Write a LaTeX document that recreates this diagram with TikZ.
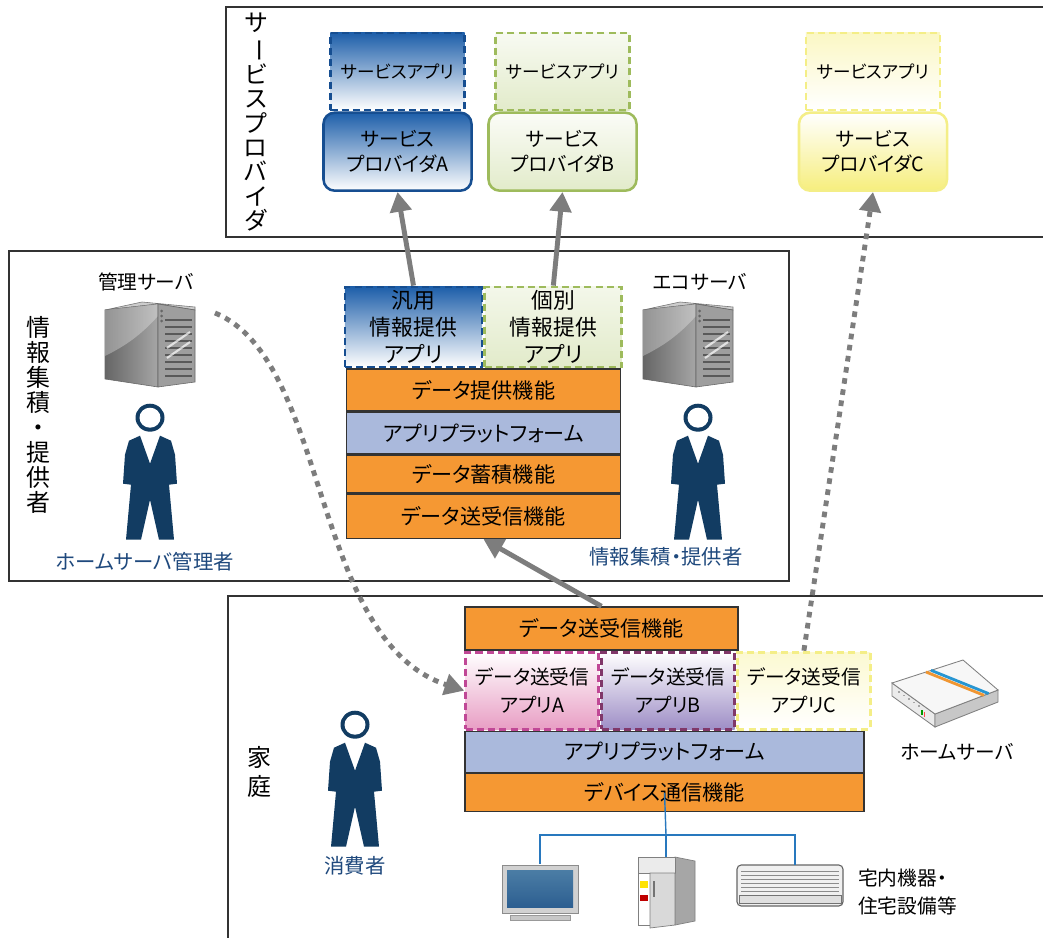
\documentclass[tikz,border=0pt]{standalone}
\usepackage{fontspec}
\setmainfont{Noto Sans CJK JP}[RawFeature=+palt]
\usepackage{graphicx}
\usetikzlibrary{positioning,arrows.meta}

\definecolor{funcorange}{RGB}{245,152,51}
\definecolor{platblue}{RGB}{170,185,220}
\definecolor{provblue}{RGB}{30,95,170}
\definecolor{provblueline}{RGB}{22,78,145}
\definecolor{provgreen}{RGB}{226,235,202}
\definecolor{provgreenline}{RGB}{158,187,92}
\definecolor{provyellow}{RGB}{246,238,125}
\definecolor{provyellowline}{RGB}{244,238,135}
\definecolor{apppink}{RGB}{232,158,196}
\definecolor{apppinkline}{RGB}{192,72,150}
\definecolor{apppurple}{RGB}{158,142,198}
\definecolor{apppurpleline}{RGB}{128,55,105}
\definecolor{staffblue}{RGB}{18,60,98}
\definecolor{labelblue}{RGB}{31,73,125}
\definecolor{arrowgray}{RGB}{125,125,125}
\definecolor{wireblue}{RGB}{40,120,190}
\definecolor{stripeblue}{RGB}{40,150,210}
\definecolor{stripeorange}{RGB}{240,150,50}
\definecolor{screentop}{RGB}{75,125,165}
\definecolor{screenbottom}{RGB}{45,95,145}

\begin{document}
\begin{tikzpicture}
	[x=0.025cm,y=-0.025cm%
	,every node/.style={inner sep=0pt,%
		font=\fontsize{15}{19}\selectfont}%
	,zone/.style={draw=black!80,line width=0.9pt}%
	,funcbox/.style={draw=black!80,line width=1pt,%
		fill=funcorange,minimum width=6.85cm}%
	,platbox/.style={funcbox,fill=platblue}%
	,dashbox/.style={line width=2pt,dash pattern=on 5pt off 3pt,align=center}%
	,svcapp/.style={dashbox,minimum width=3.35cm,minimum height=1.925cm,%
		font=\fontsize{12.5}{16}\selectfont}%
	,provider/.style={line width=1.8pt,rounded corners=8pt,%
		minimum width=3.7cm,minimum height=1.95cm,align=center,%
		font=\fontsize{14}{18}\selectfont}%
	,infoapp/.style={dashbox,minimum width=3.425cm,minimum height=2cm,%
		font=\fontsize{15.5}{19}\selectfont}%
	,homeapp/.style={dashbox,minimum width=3.325cm,minimum height=1.925cm,%
		font=\fontsize{14}{20}\selectfont}%
	,vlabel/.style={align=center,font=\fontsize{17}{17.3}\selectfont}%
	,caplabel/.style={font=\fontsize{14}{19.5}\selectfont}%
	,rolelabel/.style={caplabel,font=\fontsize{14.5}{19}\selectfont,text=labelblue}%
	,device/.style={inner sep=0pt}%
	,flowarrow/.style={draw=arrowgray,line width=3.5pt,%
		-{Triangle[length=14pt,width=15pt]}}%
	,dotarrow/.style={flowarrow,dash pattern=on 4pt off 4pt}%
	,wire/.style={draw=wireblue,line width=1pt}%
	,server/.pic={%
		\path[draw=black!55,line width=0.4pt,fill=black!20]
			(-45,-36) -- (-8,-44) -- (45,-39) -- (45,-36) -- (8,-42) -- cycle;
		\path[draw=black!60,line width=0.4pt,left color=black!60,right color=black!35]
			(-45,-36) -- (8,-42) -- (8,41) -- (-45,33) -- cycle;
		\fill[white,opacity=0.3] (-45,10) .. controls (-25,0) and (-10,-10) .. (8,-30)
			-- (8,-42) -- (-45,-36) -- cycle;
		\path[draw=black!60,line width=0.4pt,fill=black!38]
			(8,-42) -- (45,-36) -- (45,36) -- (8,41) -- cycle;
		\foreach \y in {-26,-19,...,30}
			\draw[black!65,line width=0.8pt] (15,\y) -- (42,\y);
		\draw[white,line width=1.5pt,opacity=0.7] (17,2) -- (40,-14) (17,12) -- (40,-4);
		\foreach \y in {-35,-30,-25}
			\fill[black!60] (11.5,\y) circle (1.5);}%
	,person/.pic={%
		\fill[staffblue] (0,18) ellipse [x radius=14.5,y radius=14];
		\fill[white] (0,18) ellipse [x radius=10.5,y radius=10];
		\fill[staffblue] (-10,36) -- (0,64) -- (10,36) -- (21,41) -- (25,55)
			-- (27,84) -- (19,85) -- (24,140) -- (9,140) -- (0,100) -- (-9,140)
			-- (-24,140) -- (-19,85) -- (-27,84) -- (-25,55) -- (-21,41) -- cycle;}%
	,homeserver/.pic={%
		\path[draw=black!50,line width=0.6pt,fill=black!8]
			(-53,-10) -- (-10,21) -- (-10,34) -- (-53,3) -- cycle;
		\path[draw=black!50,line width=0.6pt,fill=black!22]
			(-10,21) -- (53,-3) -- (53,9) -- (-10,34) -- cycle;
		\path[draw=black!50,line width=0.6pt,fill=black!3]
			(-53,-10) -- (18,-33) -- (53,-3) -- (-10,21) -- cycle;
		\draw[stripeorange,line width=2pt] (-19,-21) -- (39,2.3);
		\draw[stripeblue,line width=2pt] (-14,-22.7) -- (43.6,0.6);
		\foreach \i in {0,...,4}
			\fill[black!35] (-47+5*\i,-2+3.6*\i) rectangle ++(1.6,1.6);
		\fill[green!60!black] (-24,17) rectangle ++(1.5,5);
		\fill[red!70] (-21.5,19) rectangle ++(1.5,5);}%
	,tv/.pic={%
		\path[draw=black!45,line width=0.6pt,fill=black!18] (-38,-27) rectangle (38,21);
		\path[top color=screentop,bottom color=screenbottom] (-33,-22) rectangle (33,15);
		\path[draw=black!40,line width=0.5pt,fill=black!22] (-30,23) rectangle (30,28);}%
	,fridge/.pic={%
		\path[draw=black!50,line width=0.5pt,fill=black!35]
			(9,-34) -- (29,-30) -- (29,30) -- (9,34) -- cycle;
		\path[draw=black!50,line width=0.5pt,fill=black!8] (-28,-34) rectangle (9,-18);
		\path[draw=black!50,line width=0.5pt,fill=white] (-28,-18) rectangle (-16,34);
		\fill[yellow!85!orange] (-26,-10) rectangle (-18,-3);
		\fill[red!75!black] (-26,4) rectangle (-18,10);
		\path[draw=black!50,line width=0.5pt,fill=black!15]
			(-16,-18) -- (9,-18) -- (9,34) -- (-16,37) -- cycle;
		\draw[black!55,line width=1pt] (-12,-10) -- (-12,6);}%
	,aircon/.pic={%
		\path[draw=black!60,line width=0.8pt,fill=black!6,rounded corners=3pt]
			(-58,-21) rectangle (48,20);
		\foreach \y in {-15,-11,...,5}
			\draw[black!45,line width=0.7pt] (-54,\y) -- (44,\y);
		\path[draw=black!55,line width=0.6pt,fill=black!12] (-56,9) rectangle (46,17);}%
	]
	\fill[white,use as bounding box] (0,0) rectangle (1043,938);

	% the three zones
	\draw[zone] (226,7) rectangle (1070,237);
	\draw[zone] (9,251) rectangle (789,581);
	\draw[zone] (228,596) rectangle (1070,960);

	\node[vlabel] (spname) at (256,122)
		{サ\\\rotatebox[origin=c]{-90}{ー}\\ビ\\ス\\プ\\ロ\\バ\\イ\\ダ};
	\node[vlabel,font=\fontsize{17}{17.8}\selectfont] (hubname) at (38,415) {情\\報\\集\\積\\・\\提\\供\\者};
	\node[vlabel,font=\fontsize{17}{21}\selectfont] (homename) at (259,772) {家\\庭};

	% service providers
	\node[svcapp,top color=provblue,middle color=provblue!35,bottom color=white,%
		draw=provblueline] (svcA) at (397.5,71.5) {サービスアプリ};
	\node[provider,below=0pt of svcA,top color=provblue,bottom color=white,%
		draw=provblueline] (provA) {サービス\\プロバイダA};
	\node[svcapp,top color=provgreen!25,bottom color=provgreen,%
		draw=provgreenline] (svcB) at (562.5,71.5) {サービスアプリ};
	\node[provider,below=0pt of svcB,top color=provgreen!15,bottom color=provgreen,%
		draw=provgreenline] (provB) {サービス\\プロバイダB};
	\node[svcapp,top color=provyellow!45,bottom color=white,%
		draw=provyellowline] (svcC) at (873,71.5) {サービスアプリ};
	\node[provider,below=0pt of svcC,top color=white,bottom color=provyellow,%
		draw=provyellowline] (provC) {サービス\\プロバイダC};

	% information hub
	\node[infoapp,top color=provblue,middle color=provblue!30,bottom color=white,%
		draw=provblueline] (genapp) at (413.5,327) {汎用\\情報提供\\アプリ};
	\node[infoapp,right=0pt of genapp,top color=provgreen!40,bottom color=provgreen,%
		draw=provgreenline] (indapp) {個別\\情報提供\\アプリ};
	\node[funcbox,minimum height=1.05cm,below=0pt of genapp.south east] (mprov) {データ提供機能};
	\node[platbox,minimum height=1.025cm,below=0pt of mprov] (mplat) {アプリプラットフォーム};
	\node[funcbox,minimum height=0.95cm,below=0pt of mplat] (mstore) {データ蓄積機能};
	\node[funcbox,minimum height=1.1cm,below=0pt of mstore] (msend) {データ送受信機能};

	\node[device,minimum width=2.25cm,minimum height=2.2cm] (admsrv) at (150,346) {};
	\pic at (admsrv) {server};
	\node[caplabel] (admsrvname) at (146,282) {管理サーバ};
	\node[device,minimum width=1.5cm,minimum height=3.5cm] (admin) at (150,470) {};
	\pic at (admin.north) {person};
	\node[rolelabel] (adminname) at (145,562) {ホームサーバ管理者};

	\node[device,minimum width=2.25cm,minimum height=2.2cm] (ecosrv) at (688,346) {};
	\pic at (ecosrv) {server};
	\node[caplabel] (ecosrvname) at (700,282) {エコサーバ};
	\node[device,minimum width=1.5cm,minimum height=3.5cm] (hubstaff) at (698,470) {};
	\pic at (hubstaff.north) {person};
	\node[rolelabel] (hubstaffname) at (666,557) {情報集積・提供者};

	% home
	\node[funcbox,minimum width=6.825cm,minimum height=1.075cm] (bsend) at (601.5,628.5) {データ送受信機能};
	\node[homeapp,below right=0pt and 0pt of bsend.south west,%
		top color=white,bottom color=apppink,draw=apppinkline] (appA) {データ送受信\\アプリA};
	\node[homeapp,right=0pt of appA,top color=white,bottom color=apppurple,%
		draw=apppurpleline] (appB) {データ送受信\\アプリB};
	\node[homeapp,right=0pt of appB,top color=provyellow!35,bottom color=white,%
		draw=provyellowline] (appC) {データ送受信\\アプリC};
	\node[platbox,minimum width=9.975cm,minimum height=1.025cm,%
		below right=0pt and 0pt of appA.south west] (bplat) {アプリプラットフォーム};
	\node[funcbox,minimum width=9.975cm,minimum height=0.95cm,below=0pt of bplat] (bcomm) {デバイス通信機能};

	\node[device,minimum width=2.7cm,minimum height=1.9cm] (homesrv) at (945,693) {};
	\pic at (homesrv) {homeserver};
	\node[caplabel] (homesrvname) at (957,752) {ホームサーバ};

	\node[device,minimum width=1.5cm,minimum height=3.5cm] (consumer) at (355,777) {};
	\pic at (consumer.north) {person};
	\node[rolelabel] (consumername) at (355,866) {消費者};

	\node[device,minimum width=1.9cm,minimum height=1.4cm] (tv) at (540,892) {};
	\pic at (tv) {tv};
	\node[device,minimum width=1.45cm,minimum height=1.7cm] (fridge) at (666,891) {};
	\pic at (fridge) {fridge};
	\node[device,minimum width=2.65cm,minimum height=1.03cm] (aircon) at (795,886) {};
	\pic at (aircon) {aircon};
	\node[caplabel,align=left,anchor=west] (devname) at (858,892) {宅内機器・\\住宅設備等};

	% wiring to the appliances
	\coordinate (bus) at (666,835);
	\draw[wire] (bcomm.center) -- (bus);
	\draw[wire] (tv.north) |- (bus) -| (aircon.north);
	\draw[wire] (bus) -- (fridge.north);

	% data flows
	\draw[flowarrow] (genapp.north) -- (provA.south);
	\draw[flowarrow] (indapp.north) -- (provB.south);
	\draw[flowarrow] (bsend.north) -- (msend.south);
	\draw[dotarrow] (appC.north) -- (provC.south);
	\draw[dotarrow] ([xshift=14pt,yshift=-8pt]admsrv.north east)
		.. controls (330,360) and (310,640) .. (appA.west);
\end{tikzpicture}
\end{document}
